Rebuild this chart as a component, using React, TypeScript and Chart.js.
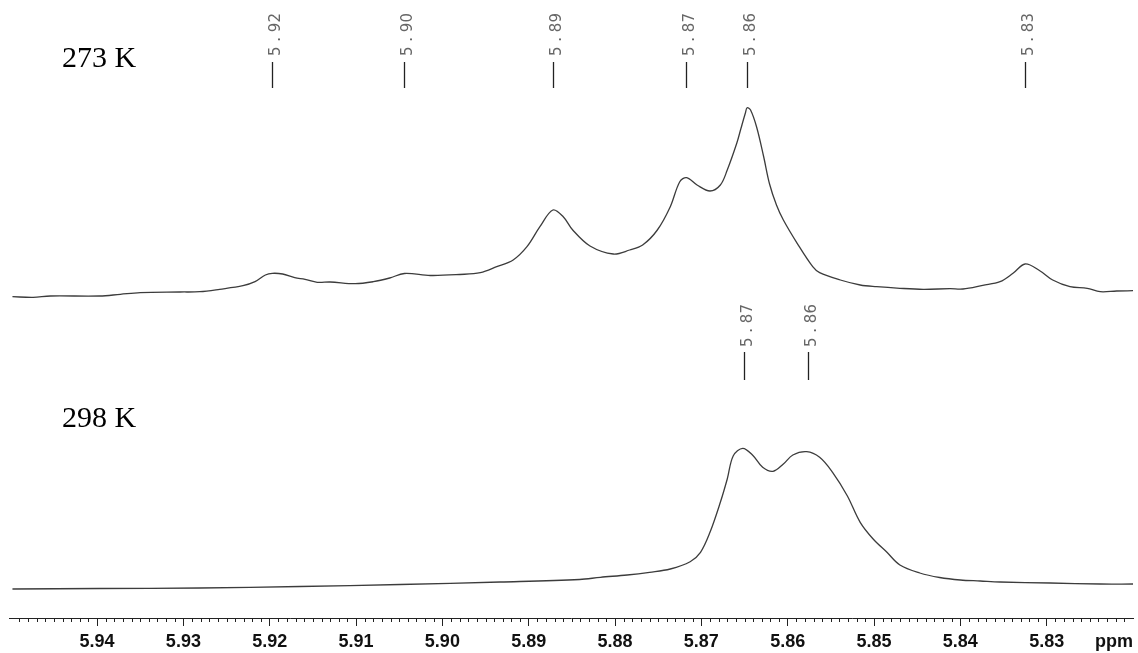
import React, { useEffect, useRef } from "react";
import { Chart, registerables } from "chart.js";

Chart.register(...registerables);

// ---- axis range (ppm, reversed) ----
const PPM_MIN = 5.82;
const PPM_MAX = 5.9502;

// ---- 273 K spectrum (ppm, intensity) ----
const TOP_PPM = [
  5.9498, 5.9474, 5.9454, 5.9397, 5.9373, 5.935, 5.9304, 5.9281, 5.9258, 5.9231,
  5.9217, 5.9205, 5.9197, 5.9185, 5.9171, 5.9159, 5.9145, 5.913, 5.9101, 5.908,
  5.9061, 5.9044, 5.9014, 5.898, 5.8956, 5.8937, 5.8918, 5.8902, 5.8887, 5.8872,
  5.886, 5.8849, 5.8829, 5.8802, 5.8783, 5.8768, 5.8751, 5.8736, 5.8725, 5.8717,
  5.8705, 5.869, 5.8678, 5.867, 5.8659, 5.8654, 5.8649, 5.8647, 5.8643, 5.8636,
  5.8628, 5.8621, 5.8613, 5.8605, 5.8589, 5.8571, 5.8563, 5.8539, 5.8516, 5.8497,
  5.847, 5.8443, 5.8412, 5.8397, 5.8374, 5.8354, 5.8339, 5.8325, 5.8308, 5.8293,
  5.8273, 5.8253, 5.8238, 5.8219, 5.82,
];
const TOP_INT = [
  0.3, -0.3, 1, 1, 2.7, 4.3, 5, 5.3, 7.7, 11.3,
  15.3, 22, 23.7, 23, 19.3, 17.7, 14.7, 15, 13.3, 15.3,
  19, 23.5, 21.5, 22.5, 24.3, 30.3, 37, 50.3, 70.3, 87,
  80.3, 67, 51, 43, 47, 52, 67, 90.3, 115.3, 119.3,
  112, 106, 112, 127, 153.7, 169, 184, 189.3, 187, 170,
  141, 113, 92, 77, 53.7, 30.3, 24.3, 17, 12, 10.3,
  8.7, 7.7, 8.3, 8, 11.7, 15.3, 23.7, 33, 26.3, 17,
  10.3, 8.7, 5.3, 6, 6.3,
];

// ---- 298 K spectrum (ppm, intensity) ----
const BOTTOM_PPM = [
  5.9498, 5.9397, 5.9281, 5.9165, 5.9049, 5.8933, 5.8841, 5.8817, 5.8786, 5.876,
  5.8736, 5.8713, 5.8701, 5.869, 5.8678, 5.867, 5.8663, 5.8652, 5.864, 5.8629,
  5.8617, 5.8605, 5.8594, 5.8578, 5.8563, 5.8548, 5.8531, 5.8516, 5.8501, 5.8485,
  5.847, 5.8447, 5.8424, 5.84, 5.8377, 5.8354, 5.8296, 5.8238, 5.82,
];
const BOTTOM_INT = [
  0, 0.5, 1, 2.5, 4.5, 7, 9.5, 11.7, 14, 16.7,
  20, 27.3, 36.7, 56.7, 86.7, 110, 133.3, 140.7, 133.3, 121.7,
  117.7, 125, 134, 137.3, 131.7, 116.7, 93.3, 66.7, 50, 36.7,
  24, 16, 11.5, 9, 8, 7, 6, 5, 5,
];

// stacking offsets of the two spectra
const TOP_OFFSET = 321;
const BOTTOM_OFFSET = 29;
const Y_MAX = 618;

const SAMPLE_LABELS = ["273 K", "298 K"];

// ---- peak picking labels ----
const TOP_PEAKS = [5.9197, 5.9044, 5.8872, 5.8718, 5.8647, 5.8325];
const TOP_PEAK_LABELS = ["5.92", "5.90", "5.89", "5.87", "5.86", "5.83"];
const BOTTOM_PEAKS = [5.8651, 5.8577];
const BOTTOM_PEAK_LABELS = ["5.87", "5.86"];

// ---- x axis ticks ----
const MAJOR_TICKS = [5.94, 5.93, 5.92, 5.91, 5.9, 5.89, 5.88, 5.87, 5.86, 5.85, 5.84, 5.83];
const MAJOR_TICK_LABELS = ["5.94", "5.93", "5.92", "5.91", "5.90", "5.89", "5.88", "5.87", "5.86", "5.85", "5.84", "5.83"];
const MINOR_STEP = 0.001;
const AXIS_UNIT = "ppm";

const annotationPlugin = {
  id: "nmrAnnotations",
  afterDraw(chart: any) {
    const ctx = chart.ctx as CanvasRenderingContext2D;
    const xs = chart.scales.x;
    const area = chart.chartArea;
    ctx.save();

    // minor ticks
    ctx.strokeStyle = "#222";
    ctx.lineWidth = 1;
    ctx.beginPath();
    const n = Math.round((PPM_MAX - PPM_MIN) / MINOR_STEP);
    for (let i = 0; i <= n; i++) {
      const v = PPM_MIN + i * MINOR_STEP;
      if (i % 10 === 0) continue;
      const px = Math.round(xs.getPixelForValue(v)) + 0.5;
      if (px < area.left || px > area.right) continue;
      ctx.moveTo(px, area.bottom);
      ctx.lineTo(px, area.bottom + 4);
    }
    ctx.stroke();

    // peak labels
    const drawPeaks = (peaks: number[], labels: string[], lineTop: number, lineBottom: number, textBottom: number) => {
      peaks.forEach((p, i) => {
        const px = Math.round(xs.getPixelForValue(p)) + 0.5;
        ctx.strokeStyle = "#222";
        ctx.lineWidth = 1.3;
        ctx.beginPath();
        ctx.moveTo(px, lineTop);
        ctx.lineTo(px, lineBottom);
        ctx.stroke();
        ctx.save();
        ctx.translate(px + 4, textBottom);
        ctx.rotate(-Math.PI / 2);
        ctx.textAlign = "left";
        ctx.textBaseline = "middle";
        ctx.font = '15px "DejaVu Sans"';
        ctx.fillStyle = "#666";
        ctx.fillText(labels[i].replace(".", " . "), 0, 0);
        ctx.restore();
      });
    };
    drawPeaks(TOP_PEAKS, TOP_PEAK_LABELS, 62, 88, 56);
    drawPeaks(BOTTOM_PEAKS, BOTTOM_PEAK_LABELS, 352, 380, 347);

    // sample labels
    ctx.fillStyle = "#000";
    ctx.font = '30px "Liberation Serif"';
    ctx.textAlign = "left";
    ctx.textBaseline = "alphabetic";
    ctx.fillText(SAMPLE_LABELS[0], 62, 67);
    ctx.fillText(SAMPLE_LABELS[1], 62, 427);

    // unit label
    ctx.font = 'bold 18px "Liberation Sans"';
    ctx.textAlign = "right";
    ctx.fillStyle = "#111";
    ctx.fillText(AXIS_UNIT, area.right, area.bottom + 29);

    ctx.restore();
  },
};

export default function App() {
  const ref = useRef<HTMLCanvasElement | null>(null);

  useEffect(() => {
    document.body.style.margin = "0";
    if (!ref.current) return;
    const topData = TOP_PPM.map((x, i) => ({ x, y: TOP_INT[i] + TOP_OFFSET }));
    const bottomData = BOTTOM_PPM.map((x, i) => ({ x, y: BOTTOM_INT[i] + BOTTOM_OFFSET }));
    const lineStyle = {
      borderColor: "#3c3c3c",
      borderWidth: 1.3,
      pointRadius: 0,
      tension: 0.35,
      fill: false,
    };
    const chart = new Chart(ref.current, {
      type: "line",
      data: {
        datasets: [
          { label: SAMPLE_LABELS[0], data: topData, ...lineStyle },
          { label: SAMPLE_LABELS[1], data: bottomData, ...lineStyle },
        ],
      },
      options: {
        animation: false,
        responsive: false,
        layout: { padding: { left: 9, right: 5, top: 0, bottom: 0 } },
        plugins: { legend: { display: false }, tooltip: { enabled: false } },
        scales: {
          x: {
            type: "linear",
            reverse: true,
            min: PPM_MIN,
            max: PPM_MAX,
            afterBuildTicks: (axis: any) => {
              axis.ticks = MAJOR_TICKS.map((v) => ({ value: v }));
            },
            afterFit: (axis: any) => {
              axis.height = 35;
            },
            ticks: {
              autoSkip: false,
              maxRotation: 0,
              padding: 5,
              color: "#111",
              font: { family: '"Liberation Sans", Arial, sans-serif', size: 18, weight: "bold" },
              callback: (_v: any, i: number) => MAJOR_TICK_LABELS[i],
            },
            grid: { display: true, drawOnChartArea: false, drawTicks: true, tickLength: 8, color: "#222" },
            border: { display: true, color: "#222", width: 1 },
          },
          y: { display: false, min: 0, max: Y_MAX },
        },
      },
      plugins: [annotationPlugin],
    });
    return () => chart.destroy();
  }, []);

  return (
    <div style={{ width: 1138, height: 653, position: "relative", background: "#fff" }}>
      <canvas ref={ref} width={1138} height={653} />
    </div>
  );
}
